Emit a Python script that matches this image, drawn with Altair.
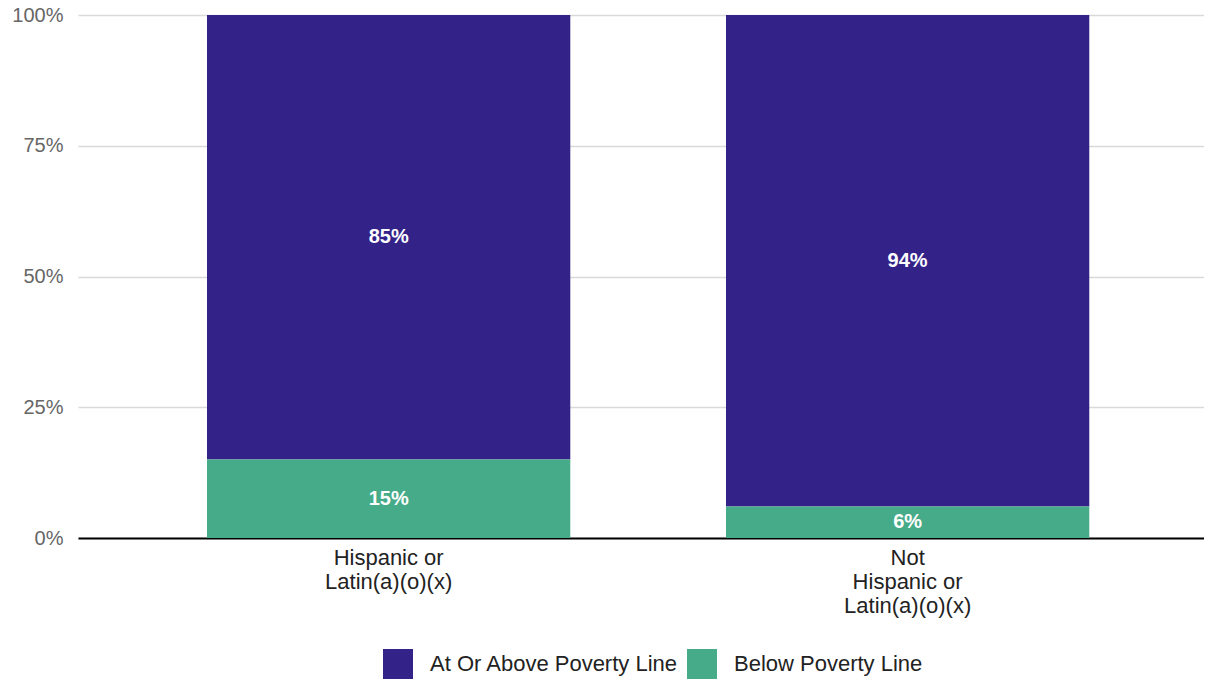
import altair as alt
import pandas as pd

# ---- data ----
categories = ["Hispanic or\nLatin(a)(o)(x)", "Not\nHispanic or\nLatin(a)(o)(x)"]
groups = ["At Or Above Poverty Line", "Below Poverty Line"]
above_values = [0.85, 0.94]
below_values = [0.15, 0.06]
stack_order = {"Below Poverty Line": 0, "At Or Above Poverty Line": 1}
colors = ["#332288", "#46AB88"]
y_ticks = [0, 0.25, 0.5, 0.75, 1.0]

rows = []
for c, a, b in zip(categories, above_values, below_values):
    rows.append({"category": c, "group": groups[0], "value": a})
    rows.append({"category": c, "group": groups[1], "value": b})
df = pd.DataFrame(rows)
df["ord"] = df["group"].map(stack_order)

FONT = "Liberation Sans"

x_enc = alt.X(
    "category:N",
    sort=categories,
    title=None,
    scale=alt.Scale(paddingInner=0.3, paddingOuter=0.2348, align=0.5293),
    axis=alt.Axis(
        labelAngle=0,
        labelExpr="split(datum.label, '\\n')",
        labelFontSize=22,
        labelLineHeight=24,
        labelColor="#222222",
        labelFont=FONT,
        labelBaseline="top",
        labelPadding=9,
        ticks=False,
        domain=True,
        domainColor="#000000",
        domainWidth=2,
        grid=False,
    ),
)

bars = alt.Chart(df).mark_bar().encode(
    x=x_enc,
    y=alt.Y(
        "value:Q",
        stack="zero",
        title=None,
        scale=alt.Scale(domain=[0, 1], nice=False),
        axis=alt.Axis(
            values=y_ticks,
            format=".0%",
            labelFontSize=20,
            labelColor="#666666",
            labelFont=FONT,
            labelPadding=15,
            ticks=False,
            domain=False,
            grid=True,
            gridColor="#d9d9d9",
            gridWidth=1.5,
        ),
    ),
    color=alt.Color(
        "group:N",
        scale=alt.Scale(domain=groups, range=colors),
        legend=alt.Legend(
            title=None,
            orient="none",
            direction="horizontal",
            legendX=305,
            legendY=634,
            symbolType="square",
            symbolSize=900,
            symbolStrokeWidth=0,
            symbolOpacity=1,
            labelFontSize=22,
            labelFont=FONT,
            labelColor="#222222",
            labelLimit=400,
            labelOffset=17,
            columnPadding=8,
            padding=0,
        ),
    ),
    order=alt.Order("ord:Q"),
)

texts = (
    alt.Chart(df)
    .transform_stack(
        stack="value",
        groupby=["category"],
        as_=["y0", "y1"],
        sort=[alt.SortField("ord", order="ascending")],
    )
    .transform_calculate(mid="(datum.y0 + datum.y1) / 2")
    .mark_text(color="white", fontSize=20, fontWeight="bold", font=FONT)
    .encode(
        x=alt.X("category:N", sort=categories),
        y=alt.Y("mid:Q"),
        text=alt.Text("value:Q", format=".0%"),
    )
)

chart = (
    alt.layer(bars, texts)
    .properties(
        width=1126,
        height=523,
        autosize=alt.AutoSizeParams(type="none"),
        padding={"left": 70, "top": 7, "right": 0, "bottom": 141},
    )
    .configure_view(stroke=None)
)

chart.save("out.html", embed_options={"renderer": "svg", "actions": False})
